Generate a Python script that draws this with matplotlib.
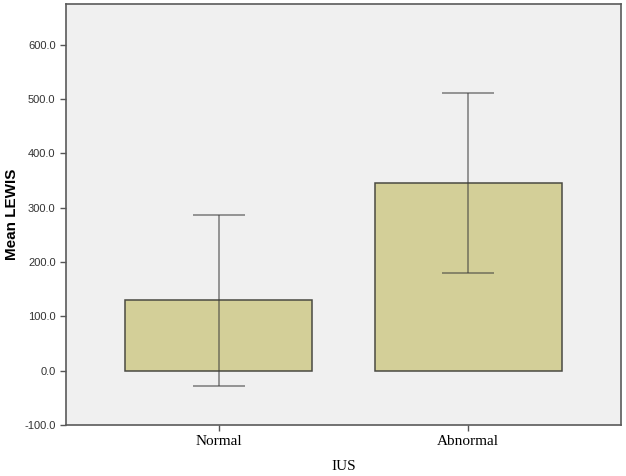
import matplotlib.pyplot as plt

groups = ["Normal", "Abnormal"]
means = [130.0, 345.0]
ci_low = [-27.5, 180.0]
ci_high = [286.5, 510.5]
yticks = [-100, 0, 100, 200, 300, 400, 500, 600]

fig = plt.figure(figsize=(6.26, 4.76), dpi=100)
ax = fig.add_axes([66 / 626, 51 / 476, 555 / 626, 421 / 476])
ax.set_facecolor("#f0f0f0")

x = list(range(len(groups)))
ax.bar(x, means, width=0.75, color="#d3cf98", edgecolor="#4a4a42", linewidth=1.1, zorder=2)

err_lo = [m - l for m, l in zip(means, ci_low)]
err_hi = [h - m for m, h in zip(means, ci_high)]
ax.errorbar(x, means, yerr=[err_lo, err_hi], fmt="none", ecolor="#3c3c3c", alpha=0.6,
            elinewidth=1.2, capsize=19, capthick=1.2, zorder=3)

ax.set_xlim(-0.612, 1.612)
ax.set_ylim(-100, 675)
ax.set_yticks(yticks)
ax.set_yticklabels([f"{v:.1f}" for v in yticks], fontsize=8, family="Liberation Sans", color="#333333")
ax.set_xticks(x)
ax.set_xticklabels(groups, fontsize=11, family="Liberation Serif")
ax.tick_params(axis="both", length=4, width=1, color="#555555")

ax.set_ylabel("Mean LEWIS", fontsize=11, fontweight="bold", family="Liberation Sans")
ax.yaxis.set_label_coords(-0.085, 0.5)
ax.set_xlabel("IUS", fontsize=11, family="Liberation Serif", labelpad=8)

for s in ax.spines.values():
    s.set_color("#5a5a5a")
    s.set_linewidth(1.2)

fig.savefig("out.png", dpi=100)
